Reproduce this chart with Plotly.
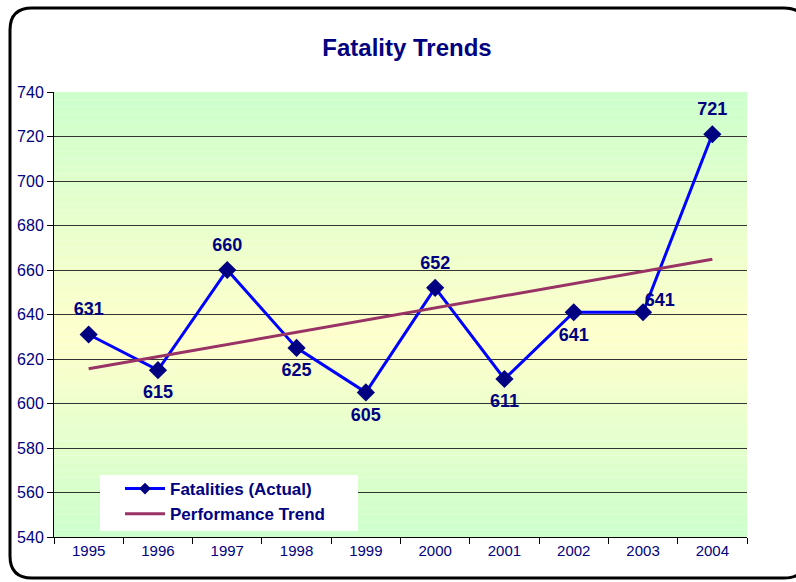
import plotly.graph_objects as go

years = ["1995", "1996", "1997", "1998", "1999", "2000", "2001", "2002", "2003", "2004"]
fatalities = [631, 615, 660, 625, 605, 652, 611, 641, 641, 721]
label_pos = ["top center", "bottom center", "top center", "bottom center", "bottom center",
             "top center", "bottom center", "bottom center", "top right", "top center"]
trend_years = ["1995", "2004"]
trend_values = [615.6, 664.8]
y_ticks = [540, 560, 580, 600, 620, 640, 660, 680, 700, 720, 740]

NAVY = "#000080"
FONT = "Arial, Liberation Sans, sans-serif"

fig = go.Figure()
fig.add_trace(go.Scatter(
    x=years, y=fatalities, mode="lines+markers", name="Fatalities (Actual)",
    line=dict(color="#0000FF", width=3),
    marker=dict(symbol="diamond", size=14, color=NAVY),
    showlegend=False,
))
# data labels (invisible spacer markers push the text away from the points)
fig.add_trace(go.Scatter(
    x=years, y=fatalities, mode="markers+text",
    marker=dict(size=[22 if p != "top right" else 1 for p in label_pos], opacity=0),
    text=[str(v) for v in fatalities], textposition=label_pos,
    textfont=dict(family=FONT, size=18, color=NAVY, weight="bold"),
    cliponaxis=False, showlegend=False, hoverinfo="skip",
))
fig.add_trace(go.Scatter(
    x=trend_years, y=trend_values, mode="lines", name="Performance Trend",
    line=dict(color="#993366", width=3), showlegend=False,
))
# legend-only entries (smaller markers in the legend)
fig.add_trace(go.Scatter(
    x=[None], y=[None], mode="lines+markers", name="Fatalities (Actual)",
    line=dict(color="#0000FF", width=3),
    marker=dict(symbol="diamond", size=9, color=NAVY),
))
fig.add_trace(go.Scatter(
    x=[None], y=[None], mode="lines", name="Performance Trend",
    line=dict(color="#993366", width=3),
))

# gradient background strips (green -> yellow -> green)
shapes = []
n = 60
def col(v):
    top, mid, bot = (204, 255, 204), (255, 255, 204), (204, 255, 204)
    if v >= 630:
        t = (v - 630) / 110
        a, b = mid, top
    else:
        t = (630 - v) / 90
        a, b = mid, bot
    return "rgb(%d,%d,%d)" % tuple(round(a[i] + (b[i] - a[i]) * t) for i in range(3))
for i in range(n):
    y0 = 540 + 200 * i / n
    y1 = 540 + 200 * (i + 1) / n
    shapes.append(dict(type="rect", xref="paper", yref="y", x0=0, x1=1, y0=y0, y1=y1,
                       fillcolor=col((y0 + y1) / 2), line=dict(width=0), layer="below"))

W, H = 693.0, 445.0
def px(x): return (x - 54) / W
def py(y): return (537 - y) / H

# white legend box
shapes.append(dict(type="rect", xref="paper", yref="paper", x0=px(100), x1=px(358),
                   y0=py(531), y1=py(475), fillcolor="white", line=dict(width=0), layer="above"))

# outer rounded border
L, R, T, B = 10, 806, 8, 578
r = 22
path = (f"M {px(L)},{py(T + r)} Q {px(L)},{py(T)} {px(L + r)},{py(T)} "
        f"L {px(R - r)},{py(T)} Q {px(R)},{py(T)} {px(R)},{py(T + r)} "
        f"L {px(R)},{py(B - r)} Q {px(R)},{py(B)} {px(R - r)},{py(B)} "
        f"L {px(L + r)},{py(B)} Q {px(L)},{py(B)} {px(L)},{py(B - r)} Z")
shapes.append(dict(type="path", xref="paper", yref="paper", path=path,
                   line=dict(color="black", width=3), layer="above"))

fig.update_layout(
    width=796, height=582,
    margin=dict(l=54, r=49, t=92, b=45),
    paper_bgcolor="white", plot_bgcolor="white",
    title=dict(text="<b>Fatality Trends</b>", x=407 / 796, xanchor="center",
               y=1 - 48 / 582, yanchor="middle",
               font=dict(family=FONT, size=24, color=NAVY)),
    font=dict(family=FONT, color=NAVY, size=15),
    shapes=shapes,
    showlegend=True,
    legend=dict(x=px(120), y=py(471), xanchor="left", yanchor="top",
                bgcolor="rgba(0,0,0,0)", borderwidth=0,
                font=dict(family=FONT, size=17, color=NAVY, weight="bold"),
                itemwidth=40, tracegroupgap=0),
    xaxis=dict(type="category", range=[-0.5, 9.5], showgrid=False,
               showline=True, linecolor="black", linewidth=1,
               ticks="outside", tickson="boundaries", ticklen=6, tickcolor="black",
               tickfont=dict(family=FONT, size=15, color=NAVY)),
    yaxis=dict(range=[540, 740], tickvals=y_ticks, showgrid=True, gridcolor="#333333",
               gridwidth=1, showline=True, linecolor="black", linewidth=1,
               ticks="outside", ticklen=6, tickcolor="black", zeroline=False,
               tickfont=dict(family=FONT, size=16, color=NAVY)),
)
fig.write_html("out.html", config={"displayModeBar": False},
               post_script="document.body.style.margin='0';document.body.style.overflow='hidden';")
